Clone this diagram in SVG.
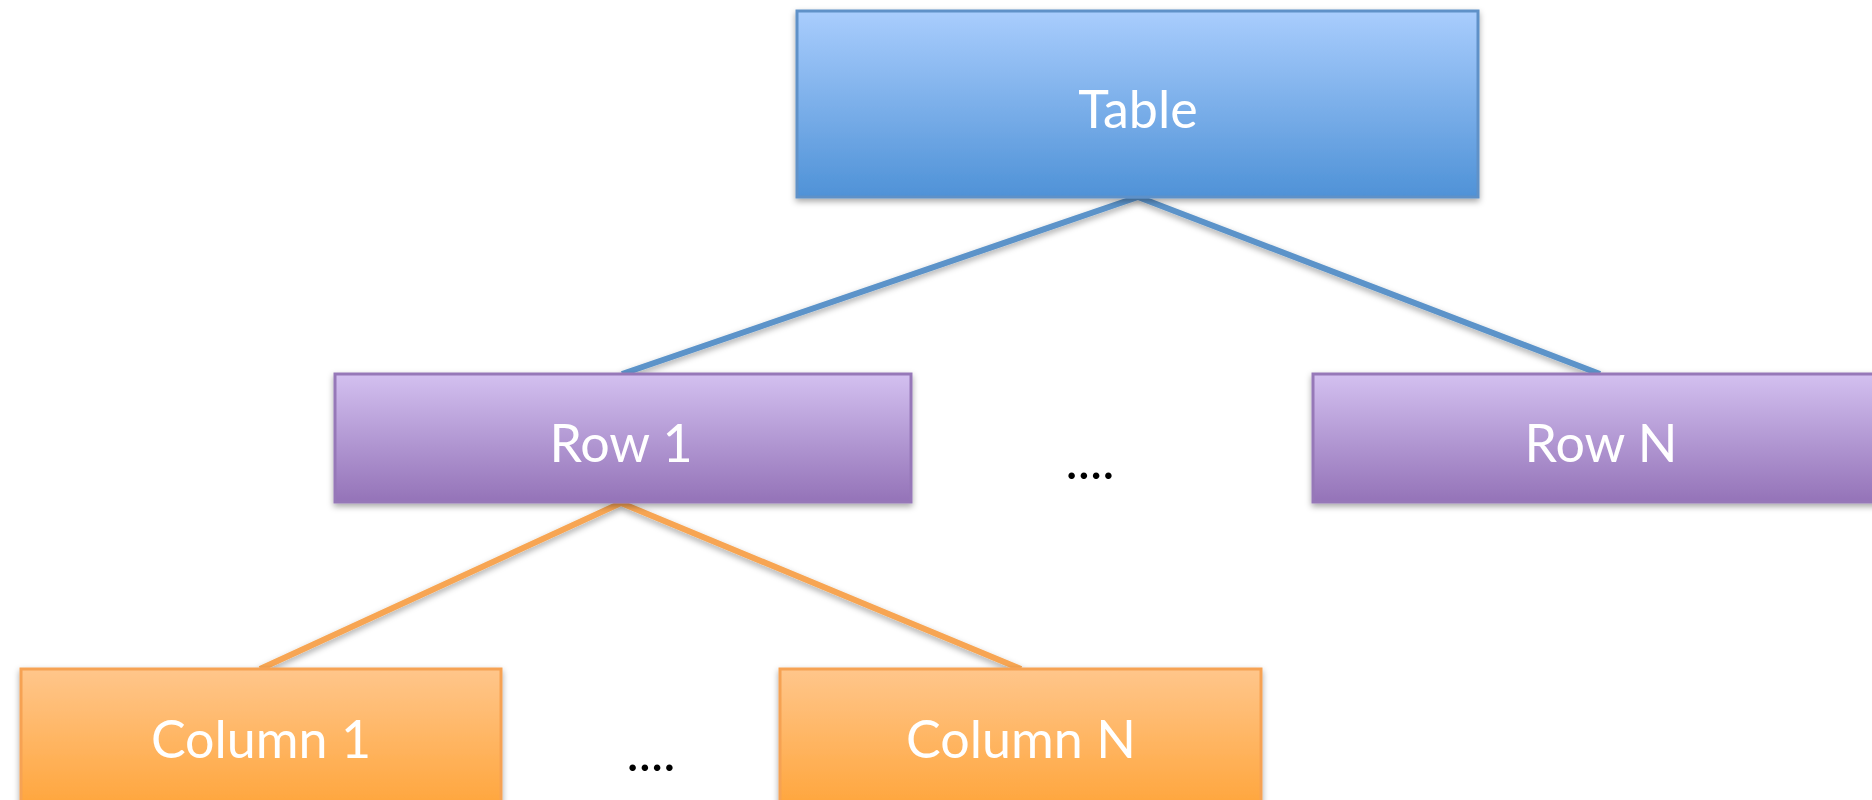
<svg xmlns="http://www.w3.org/2000/svg" width="1872" height="800" viewBox="0 0 1872 800">
<style>
.lbl{font-family:Lato,"Open Sans","Liberation Sans",sans-serif;font-size:52px;fill:#ffffff;text-anchor:middle;dominant-baseline:central}
.dots{font-family:Lato,"Liberation Sans",sans-serif;font-size:52px;fill:#000;text-anchor:middle}
.blue{fill:url(#gBlue);stroke:#5f91c8;stroke-width:3}
.purple{fill:url(#gPurple);stroke:#9678b8;stroke-width:3}
.orange{fill:url(#gOrange);stroke:#f6a253;stroke-width:3}
.cb{stroke:#5b93c9;stroke-width:6;fill:none}
.co{stroke:#f7a552;stroke-width:6;fill:none}
</style>
<defs>
<linearGradient id="gBlue" x1="0" y1="0" x2="0" y2="1"><stop offset="0" stop-color="#a9cdfd"/><stop offset="1" stop-color="#4f92d7"/></linearGradient>
<linearGradient id="gPurple" x1="0" y1="0" x2="0" y2="1"><stop offset="0" stop-color="#d3c0f0"/><stop offset="1" stop-color="#9473b8"/></linearGradient>
<linearGradient id="gOrange" x1="0" y1="0" x2="0" y2="1"><stop offset="0" stop-color="#ffc68b"/><stop offset="1" stop-color="#ffa53b"/></linearGradient>
<filter id="sh" x="-5%" y="-10%" width="110%" height="130%"><feDropShadow dx="0" dy="3" stdDeviation="3" flood-color="#000" flood-opacity="0.35"/></filter>
</defs>
<g id="connectors" filter="url(#sh)">
<line class="cb" x1="1138" y1="197" x2="622" y2="374"/>
<line class="cb" x1="1138" y1="197" x2="1600" y2="374"/>
<line class="co" x1="621" y1="503" x2="260" y2="669"/>
<line class="co" x1="621" y1="503" x2="1021" y2="669"/>
</g>
<g id="table" filter="url(#sh)"><rect class="blue" x="797" y="11" width="681" height="186"/><text class="lbl" x="1138" y="108">Table</text></g>
<g id="row1" filter="url(#sh)"><rect class="purple" x="335" y="374" width="576" height="128"/><text class="lbl" x="621" y="442">Row 1</text></g>
<g id="rowN" filter="url(#sh)"><rect class="purple" x="1313" y="374" width="580" height="128"/><text class="lbl" x="1601" y="442">Row N</text></g>
<g id="col1" filter="url(#sh)"><rect class="orange" x="21" y="669" width="480" height="140"/><text class="lbl" x="261" y="738">Column 1</text></g>
<g id="colN" filter="url(#sh)"><rect class="orange" x="780" y="669" width="481" height="140"/><text class="lbl" x="1021" y="738">Column N</text></g>
<g id="dots1"><text class="dots" x="1090" y="479">....</text></g>
<g id="dots2"><text class="dots" x="651" y="771">....</text></g>
</svg>
